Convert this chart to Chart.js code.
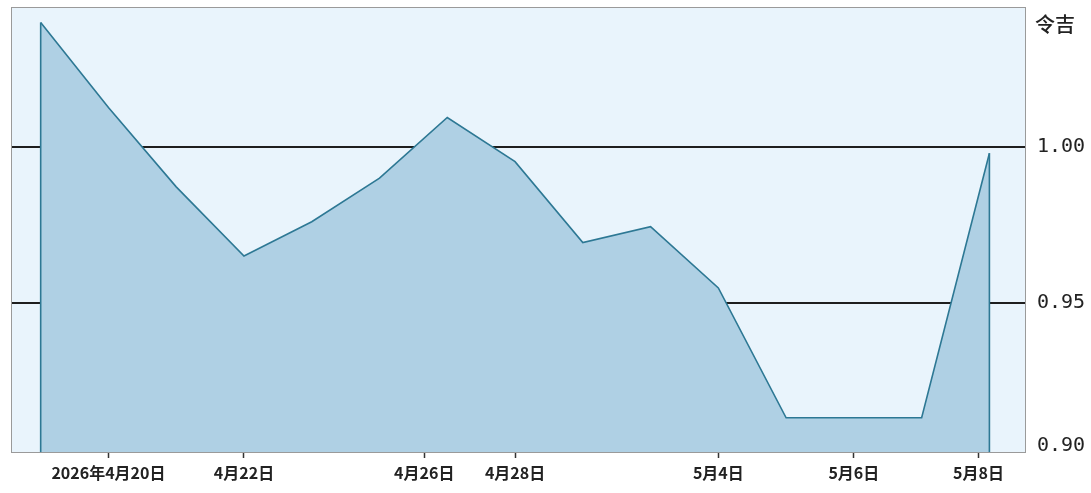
<!DOCTYPE html>
<html>
<head>
<meta charset="utf-8">
<script src="https://cdn.jsdelivr.net/npm/chart.js@4.4.1/dist/chart.umd.min.js"></script>
<style>
  html, body { margin: 0; padding: 0; background: #ffffff; }
  #wrap { width: 1091px; height: 493px; }
</style>
</head>
<body>
<div id="wrap"><canvas id="graphiqueRinggit" width="1091" height="493"></canvas></div>
<script>
// jours de cotation (index = position sur l'axe)
var jours = ['4/17', '4/20', '4/21', '4/22', '4/23', '4/24', '4/27', '4/28',
             '4/29', '4/30', '5/4', '5/5', '5/6', '5/7', '5/8'];
var valeurs = [1.040, 1.0127, 0.9872, 0.965, 0.976, 0.990, 1.0095, 0.9953,
               0.9693, 0.9744, 0.9547, 0.913, 0.913, 0.913, 0.998];

// graduations de l'axe des dates (position en jours de cotation)
var positionsDates = [1, 3, 5.66, 7, 10, 12, 13.84];
var etiquettesDates = ['2026年4月20日', '4月22日', '4月26日', '4月28日', '5月4日', '5月6日', '5月8日'];

var graduationsY = [0.90, 0.95, 1.00];
var uniteY = '令吉';

function GetPoints(vals) {
    var points = [];
    var i = 0;
    while (i < vals.length) {
        points.push({ x: i, y: vals[i] });
        i++;
    }
    return points;
}

var couleurLigne = '#2d7894';

var fondEtCadre = {
    id: 'fondEtCadre',
    beforeDraw: function (chart) {
        var a = chart.chartArea, c = chart.ctx;
        c.save();
        c.fillStyle = '#e9f4fc';
        c.fillRect(a.left, a.top, a.right - a.left, a.bottom - a.top);
        c.restore();
    },
    afterDatasetsDraw: function (chart) {
        // traits verticaux aux extrémités de la surface
        var meta = chart.getDatasetMeta(0);
        var a = chart.chartArea, c = chart.ctx;
        var p0 = meta.data[0], pn = meta.data[meta.data.length - 1];
        c.save();
        c.strokeStyle = couleurLigne;
        c.lineWidth = 1.6;
        c.beginPath();
        c.moveTo(p0.x, p0.y); c.lineTo(p0.x, a.bottom);
        c.moveTo(pn.x, pn.y); c.lineTo(pn.x, a.bottom);
        c.stroke();
        c.restore();
    },
    afterDraw: function (chart) {
        var a = chart.chartArea, c = chart.ctx;
        c.save();
        c.strokeStyle = '#9a9a9a';
        c.lineWidth = 1;
        c.strokeRect(a.left + 0.5, a.top + 0.5, a.right - a.left - 1, a.bottom - a.top);
        c.fillStyle = '#222';
        c.font = '500 20px "Noto Sans CJK SC"';
        c.textBaseline = 'middle';
        c.textAlign = 'left';
        c.fillText(uniteY, a.right + 9, a.top + 17);
        c.restore();
    }
};

var ctx = document.getElementById('graphiqueRinggit').getContext('2d');

var graphique = new Chart(ctx, {
    type: 'line',
    data: {
        datasets: [
            {
                label: 'MYR',
                data: GetPoints(valeurs),
                borderColor: couleurLigne,
                borderWidth: 1.6,
                backgroundColor: '#afd0e4',
                fill: 'start',
                tension: 0,
                pointRadius: 0
            }
        ]
    },
    options: {
        responsive: false,
        animation: false,
        layout: { padding: { left: 11, top: 7, right: 0, bottom: 0 } },
        plugins: {
            legend: { display: false },
            tooltip: { enabled: false }
        },
        scales: {
            x: {
                type: 'linear',
                min: -0.438,
                max: 14.54,
                afterBuildTicks: function (axis) {
                    axis.ticks = positionsDates.map(function (v) { return { value: v }; });
                },
                afterFit: function (axis) {
                    axis.height = 41;
                    axis.paddingLeft = 0;
                    axis.paddingRight = 0;
                },
                border: { display: false },
                grid: {
                    drawOnChartArea: false,
                    drawTicks: true,
                    tickLength: 6,
                    tickWidth: 1.5,
                    tickColor: '#333'
                },
                ticks: {
                    autoSkip: false,
                    maxRotation: 0,
                    padding: 5,
                    color: '#222',
                    font: { family: '"Noto Sans CJK SC"', size: 16, weight: '600' },
                    callback: function (value, index) { return etiquettesDates[index]; }
                }
            },
            y: {
                position: 'right',
                min: 0.902,
                max: 1.045,
                z: 1,
                afterBuildTicks: function (axis) {
                    axis.ticks = graduationsY.map(function (v) { return { value: v }; });
                },
                afterFit: function (axis) {
                    axis.width = 65;
                    axis.paddingTop = 0;
                    axis.paddingBottom = 0;
                },
                border: { display: false },
                grid: {
                    drawTicks: false,
                    lineWidth: 2,
                    color: function (c) {
                        return (c.tick && Math.abs(c.tick.value - 0.90) < 1e-6) ? 'rgba(0,0,0,0)' : '#1e1e1e';
                    }
                },
                ticks: {
                    padding: 11,
                    color: '#222',
                    font: { family: '"DejaVu Sans Mono"', size: 20 },
                    callback: function (value, index) {
                        // la graduation du bas est remontée dans le cadre
                        if (index === 0) { return [value.toFixed(2), '']; }
                        return value.toFixed(2);
                    }
                }
            }
        }
    },
    plugins: [fondEtCadre]
});
</script>
</body>
</html>
